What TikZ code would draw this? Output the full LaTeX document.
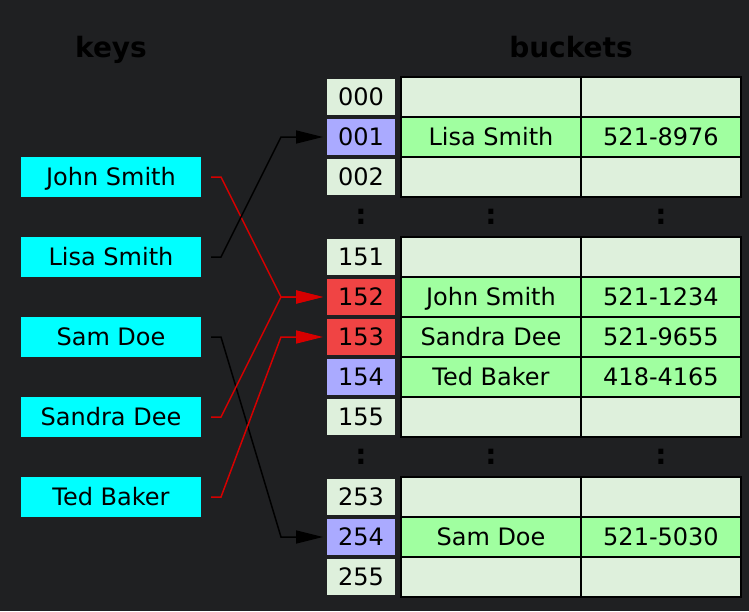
\documentclass[tikz,border=0pt]{standalone}
\usepackage{fontspec}
\setmainfont{DejaVu Sans}
\usetikzlibrary{arrows.meta}
\definecolor{fondo}{RGB}{31,32,34}
\definecolor{cian}{RGB}{0,255,255}
\definecolor{vacio}{RGB}{222,240,220}
\definecolor{lleno}{RGB}{160,255,160}
\definecolor{azul}{RGB}{170,170,255}
\definecolor{rojizo}{RGB}{240,68,68}
\definecolor{rojo}{RGB}{214,0,0}

\begin{document}
\begin{tikzpicture}[x=0.5pt, y=-0.5pt,
    every node/.style={inner sep=0pt, outer sep=0pt, text height=10pt, text depth=2pt,
      font=\fontsize{12}{14}\selectfont},
    titulo/.style={font=\fontsize{14}{16}\selectfont\bfseries, text=black, text height=13pt, text depth=2pt},
    clave/.style={fill=cian, minimum width=90pt, minimum height=20pt},
    indice/.style={fill=vacio, minimum width=34pt, minimum height=18pt},
    celda/.style={draw=black, line width=0.75pt, fill=vacio, minimum height=20pt},
    nombre/.style={celda, minimum width=90pt},
    tel/.style={celda, minimum width=80pt},
    puntos/.style={font=\fontsize{14}{16}\selectfont\bfseries, text height=10pt, text depth=2.4pt},
    flecha/.style={line width=0.75pt, -{Triangle[length=13.5pt,width=6.5pt]}}]
    \fill[fondo] (0,0) rectangle (749,611);

    % Titulos
    \node[titulo] (tkeys) at (111,46) {keys};
    \node[titulo] (tbuckets) at (571,46) {buckets};

    % Claves
    \node[clave] (john) at (111,177) {John Smith};
    \node[clave] (lisa) at (111,257) {Lisa Smith};
    \node[clave] (sam) at (111,337) {Sam Doe};
    \node[clave] (sandra) at (111,417) {Sandra Dee};
    \node[clave] (ted) at (111,497) {Ted Baker};

    % Indices
    \node[indice] (i000) at (361,97) {000};
    \node[indice, fill=azul] (i001) at (361,137) {001};
    \node[indice] (i002) at (361,177) {002};
    \node[indice] (i151) at (361,257) {151};
    \node[indice, fill=rojizo] (i152) at (361,297) {152};
    \node[indice, fill=rojizo] (i153) at (361,337) {153};
    \node[indice, fill=azul] (i154) at (361,377) {154};
    \node[indice] (i155) at (361,417) {155};
    \node[indice] (i253) at (361,497) {253};
    \node[indice, fill=azul] (i254) at (361,537) {254};
    \node[indice] (i255) at (361,577) {255};

    % Cubetas
    \node[nombre] (n000) at (491,97) {};
    \node[tel] (t000) at (661,97) {};
    \node[nombre, fill=lleno] (n001) at (491,137) {Lisa Smith};
    \node[tel, fill=lleno] (t001) at (661,137) {521-8976};
    \node[nombre] (n002) at (491,177) {};
    \node[tel] (t002) at (661,177) {};
    \node[nombre] (n151) at (491,257) {};
    \node[tel] (t151) at (661,257) {};
    \node[nombre, fill=lleno] (n152) at (491,297) {John Smith};
    \node[tel, fill=lleno] (t152) at (661,297) {521-1234};
    \node[nombre, fill=lleno] (n153) at (491,337) {Sandra Dee};
    \node[tel, fill=lleno] (t153) at (661,337) {521-9655};
    \node[nombre, fill=lleno] (n154) at (491,377) {Ted Baker};
    \node[tel, fill=lleno] (t154) at (661,377) {418-4165};
    \node[nombre] (n155) at (491,417) {};
    \node[tel] (t155) at (661,417) {};
    \node[nombre] (n253) at (491,497) {};
    \node[tel] (t253) at (661,497) {};
    \node[nombre, fill=lleno] (n254) at (491,537) {Sam Doe};
    \node[tel, fill=lleno] (t254) at (661,537) {521-5030};
    \node[nombre] (n255) at (491,577) {};
    \node[tel] (t255) at (661,577) {};

    % Puntos
    \node[puntos] (pa1) at (361,217) {:};
    \node[puntos] (pa2) at (491,217) {:};
    \node[puntos] (pa3) at (661,217) {:};
    \node[puntos] (pb1) at (361,457) {:};
    \node[puntos] (pb2) at (491,457) {:};
    \node[puntos] (pb3) at (661,457) {:};

    % Flechas
    \draw[flecha, rojo] ([xshift=5pt]john.east) -- ++(5pt,0) -- ([xshift=-23pt]i152.west) -- ([xshift=-2pt]i152.west);
    \draw[flecha, black] ([xshift=5pt]lisa.east) -- ++(5pt,0) -- ([xshift=-23pt]i001.west) -- ([xshift=-2pt]i001.west);
    \draw[flecha, black] ([xshift=5pt]sam.east) -- ++(5pt,0) -- ([xshift=-23pt]i254.west) -- ([xshift=-2pt]i254.west);
    \draw[flecha, rojo] ([xshift=5pt]sandra.east) -- ++(5pt,0) -- ([xshift=-23pt]i152.west) -- ([xshift=-2pt]i152.west);
    \draw[flecha, rojo] ([xshift=5pt]ted.east) -- ++(5pt,0) -- ([xshift=-23pt]i153.west) -- ([xshift=-2pt]i153.west);
\end{tikzpicture}
\end{document}
